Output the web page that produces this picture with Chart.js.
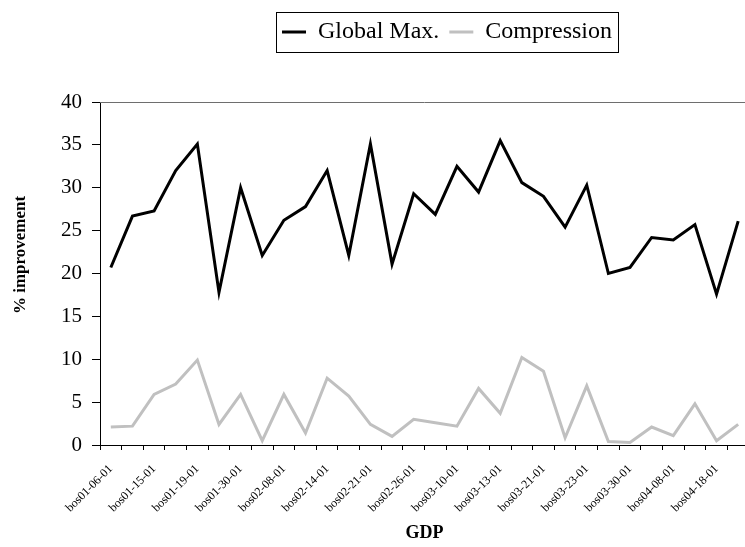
<!DOCTYPE html>
<html>
<head>
<meta charset="utf-8">
<script src="https://cdn.jsdelivr.net/npm/chart.js@4"></script>
<style>
  html, body { margin: 0; padding: 0; background: #fff; overflow: hidden; }
  #wrap { width: 752px; height: 547px; }
</style>
</head>
<body>
<div id="wrap"><canvas id="chart" width="752" height="547"></canvas></div>
<script>
// Labelled runs (every second run carries a tick label)
const tickLabels = [
  'bos01-06-01', 'bos01-15-01', 'bos01-19-01', 'bos01-30-01', 'bos02-08-01',
  'bos02-14-01', 'bos02-21-01', 'bos02-26-01', 'bos03-10-01', 'bos03-13-01',
  'bos03-21-01', 'bos03-23-01', 'bos03-30-01', 'bos04-08-01', 'bos04-18-01'
];

// % improvement per run
const globalMax = [
  20.7, 26.7, 27.3, 32.0, 35.1, 17.8, 30.0, 22.1, 26.2, 27.8,
  32.0, 22.1, 35.1, 21.1, 29.3, 26.9, 32.5, 29.5, 35.5, 30.6,
  29.0, 25.4, 30.3, 20.0, 20.7, 24.2, 23.9, 25.7, 17.6, 26.1
];
const compression = [
  2.1, 2.2, 5.9, 7.1, 9.9, 2.4, 5.9, 0.5, 5.9, 1.4,
  7.8, 5.7, 2.4, 1.0, 3.0, 2.6, 2.2, 6.6, 3.7, 10.2,
  8.6, 0.85, 6.9, 0.4, 0.3, 2.1, 1.1, 4.8, 0.5, 2.4
];

const yTitle = '% improvement';
const xTitle = 'GDP';

// One category per run; only even runs show their name
const categories = globalMax.map((_, i) => (i % 2 === 0 ? tickLabels[i / 2] : ''));

const serif = 'Liberation Serif, Times New Roman, serif';

// Legend: fixed band above the plot, centred at x = 447, framed by a thin box
const legendFrame = {
  id: 'legendFrame',
  afterInit(chart) {
    const legend = chart.legend;
    if (!legend) return;
    const fit = legend.fit.bind(legend);
    legend.fit = function () {
      fit();
      this.height = 92;
    };
  },
  afterLayout(chart) {
    const legend = chart.legend;
    if (!legend) return;
    const dx = 447 - (legend.left + legend.right) / 2;
    legend.left += dx;
    legend.right += dx;
  },
  afterDraw(chart) {
    const boxes = chart.legend && chart.legend.legendHitBoxes;
    if (!boxes || !boxes.length) return;
    const first = boxes[0];
    const last = boxes[boxes.length - 1];
    const ctx = chart.ctx;
    ctx.save();
    ctx.strokeStyle = '#000';
    ctx.lineWidth = 1;
    const left = Math.round(first.left - 6) + 0.5;
    const right = Math.round(last.left + last.width + 6) + 0.5;
    const top = Math.round(first.top - 8) + 0.5;
    const bottom = Math.round(first.top + first.height + 8) + 0.5;
    ctx.strokeRect(left, top, right - left, bottom - top);
    ctx.restore();
  }
};

// Top and right edges of the plot area, plus the rotated value-axis title
const plotEdges = {
  id: 'plotEdges',
  beforeDatasetsDraw(chart) {
    const { ctx, chartArea: a } = chart;
    ctx.save();
    ctx.strokeStyle = '#6e6e6e';
    ctx.lineWidth = 1;
    ctx.beginPath();
    ctx.moveTo(a.left, Math.round(a.top) + 0.5);
    ctx.lineTo(a.right, Math.round(a.top) + 0.5);
    ctx.lineTo(a.right, a.bottom);
    ctx.stroke();
    ctx.restore();
  },
  afterDraw(chart) {
    const ctx = chart.ctx;
    ctx.save();
    ctx.translate(21, 255);
    ctx.rotate(-Math.PI / 2);
    ctx.font = 'bold 17px ' + serif;
    ctx.fillStyle = '#000';
    ctx.textAlign = 'center';
    ctx.textBaseline = 'middle';
    ctx.fillText(yTitle, 0, 0);
    ctx.restore();
  }
};

new Chart(document.getElementById('chart'), {
  type: 'line',
  plugins: [legendFrame, plotEdges],
  data: {
    labels: categories,
    datasets: [
      {
        label: 'Global Max.',
        data: globalMax,
        borderColor: '#000000',
        backgroundColor: '#000000',
        borderWidth: 3,
        pointRadius: 0,
        tension: 0,
        borderJoinStyle: 'miter'
      },
      {
        label: 'Compression',
        data: compression,
        borderColor: '#c0c0c0',
        backgroundColor: '#c0c0c0',
        borderWidth: 3,
        pointRadius: 0,
        tension: 0,
        borderJoinStyle: 'miter'
      }
    ]
  },
  options: {
    responsive: false,
    animation: false,
    devicePixelRatio: 1,
    layout: { padding: { top: 10, right: 3, left: 0, bottom: 0 } },
    plugins: {
      legend: {
        position: 'top',
        align: 'center',
        labels: {
          usePointStyle: true,
          pointStyle: 'line',
          pointStyleWidth: 24,
          padding: 10,
          color: '#000',
          font: { family: serif, size: 24 }
        }
      },
      tooltip: { enabled: false }
    },
    scales: {
      x: {
        type: 'category',
        offset: true,
        afterFit(scale) {
          scale.height = 102;
          scale.paddingLeft = 0;
          scale.paddingRight = 0;
        },
        grid: {
          offset: true,
          drawOnChartArea: false,
          drawTicks: true,
          tickLength: 5,
          tickColor: '#000',
          tickWidth: 1
        },
        border: { color: '#000', width: 1 },
        ticks: {
          autoSkip: false,
          maxRotation: 45,
          minRotation: 45,
          padding: 12,
          color: '#000',
          font: { family: serif, size: 12 }
        },
        title: {
          display: true,
          text: xTitle,
          color: '#000',
          font: { family: serif, size: 18, weight: 'bold' },
          padding: { top: 0, bottom: 3 }
        }
      },
      y: {
        min: 0,
        max: 40,
        afterFit(scale) { scale.width = 100; },
        grid: {
          drawOnChartArea: false,
          drawTicks: true,
          tickLength: 8,
          tickColor: '#000',
          tickWidth: 1
        },
        border: { color: '#000', width: 1 },
        ticks: {
          stepSize: 5,
          padding: 10,
          color: '#000',
          font: { family: serif, size: 21 }
        },
        title: { display: false }
      }
    }
  }
});
</script>
</body>
</html>
